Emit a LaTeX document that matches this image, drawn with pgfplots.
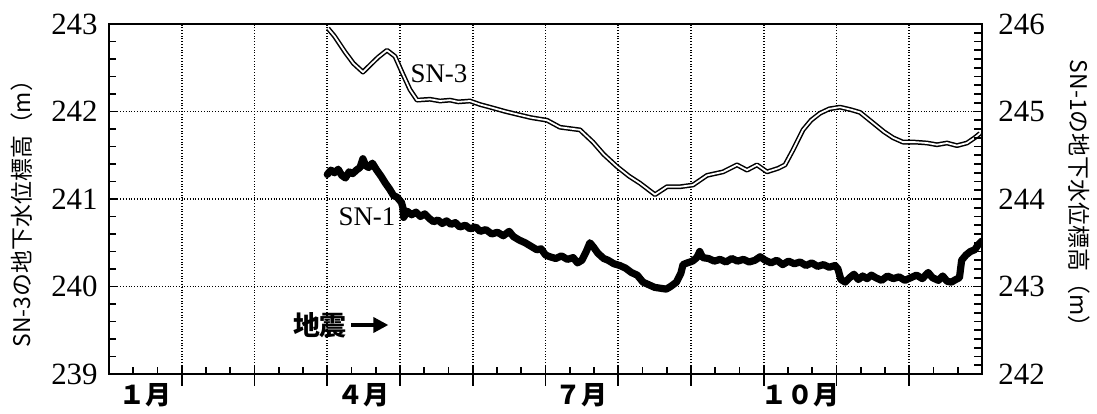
\documentclass[border=0pt]{standalone}
\usepackage{fontspec}
\setmainfont{Liberation Serif}
\newfontfamily\jp{Noto Sans CJK JP}
\usepackage{pgfplots}
\pgfplotsset{compat=1.18}
\usetikzlibrary{arrows.meta}

\pgfplotstableread{
x y
3.010 242.95
3.10 242.86
3.244 242.68
3.36 242.55
3.491 242.45
3.588 242.53
3.70 242.62
3.821 242.70
3.931 242.63
4.027 242.45
4.137 242.25
4.234 242.13
4.412 242.14
4.55 242.12
4.687 242.13
4.80 242.11
4.962 242.12
5.10 242.08
5.278 242.04
5.45 242.00
5.649 241.96
5.80 241.93
6.021 241.90
6.199 241.82
6.474 241.79
6.653 241.65
6.80 241.51
6.983 241.37
7.15 241.26
7.299 241.18
7.505 241.05
7.670 241.14
7.849 241.14
8.027 241.16
8.220 241.27
8.440 241.31
8.632 241.39
8.770 241.33
8.907 241.39
9.045 241.31
9.196 241.35
9.292 241.39
9.402 241.56
9.540 241.79
9.650 241.90
9.773 241.98
9.900 242.03
10.048 242.05
10.200 242.02
10.323 241.99
10.502 241.87
10.650 241.77
10.777 241.70
10.914 241.65
11.080 241.65
11.244 241.64
11.381 241.62
11.519 241.64
11.656 241.61
11.794 241.64
11.900 241.70
11.973 241.75
}\snthree

\pgfplotstableread{
x y
3.00 244.28
3.05 244.33
3.10 244.30
3.15 244.34
3.20 244.27
3.25 244.24
3.30 244.31
3.35 244.29
3.40 244.33
3.45 244.36
3.49 244.46
3.53 244.38
3.57 244.36
3.62 244.41
3.68 244.33
3.74 244.26
3.80 244.18
3.86 244.11
3.91 244.04
3.96 244.02
4.02 243.96
4.04 243.90
4.05 243.79
4.10 243.86
4.16 243.82
4.22 243.85
4.28 243.80
4.34 243.83
4.40 243.78
4.46 243.74
4.52 243.76
4.58 243.72
4.64 243.75
4.70 243.71
4.76 243.73
4.82 243.68
4.90 243.70
4.96 243.66
5.04 243.68
5.10 243.63
5.18 243.65
5.26 243.60
5.34 243.62
5.42 243.58
5.50 243.63
5.56 243.57
5.64 243.53
5.72 243.50
5.80 243.46
5.88 243.42
5.94 243.43
6.00 243.36
6.06 243.34
6.14 243.32
6.22 243.35
6.30 243.31
6.38 243.33
6.44 243.27
6.50 243.30
6.56 243.40
6.61 243.50
6.66 243.45
6.72 243.38
6.80 243.32
6.86 243.30
6.94 243.26
7.02 243.24
7.10 243.21
7.18 243.16
7.26 243.13
7.34 243.05
7.42 243.02
7.50 242.99
7.58 242.98
7.66 242.97
7.72 243.00
7.80 243.05
7.86 243.15
7.89 243.25
7.95 243.27
8.02 243.29
8.08 243.33
8.12 243.40
8.16 243.33
8.24 243.32
8.32 243.29
8.40 243.31
8.48 243.28
8.56 243.32
8.64 243.29
8.72 243.31
8.80 243.28
8.88 243.30
8.95 243.34
9.02 243.30
9.10 243.27
9.18 243.30
9.26 243.25
9.34 243.29
9.42 243.26
9.50 243.28
9.58 243.24
9.66 243.27
9.74 243.23
9.82 243.25
9.90 243.22
9.98 243.24
10.02 243.20
10.06 243.08
10.12 243.05
10.18 243.10
10.24 243.14
10.30 243.08
10.36 243.12
10.42 243.09
10.48 243.13
10.54 243.10
10.62 243.07
10.70 243.12
10.78 243.09
10.86 243.11
10.94 243.07
11.02 243.10
11.10 243.13
11.18 243.09
11.26 243.16
11.32 243.10
11.40 243.07
11.46 243.12
11.52 243.06
11.58 243.05
11.64 243.08
11.69 243.10
11.72 243.30
11.78 243.36
11.84 243.40
11.90 243.42
11.95 243.48
12.00 243.52
}\snone

\begin{document}
\begin{tikzpicture}
\begin{axis}[
  name=ax,
  scale only axis, width=436.5bp, height=175bp,
  xmin=0, xmax=12, ymin=239, ymax=243,
  axis line style={line width=1.2bp},
  xtick={0,...,12},
  xticklabels={１月,,,４月,,,７月,,,１０月,,,},
  xtick pos=left, ytick pos=left,
  minor x tick num=2,
  ytick={239,...,243},
  minor y tick num=4,
  tick align=inside,
  major tick length=4.5bp, minor tick length=3.5bp,
  tick style={black, line width=0.9bp},
  extra x ticks={1,...,11},
  extra x tick labels={},
  extra x tick style={grid=none, tick align=outside, major tick length=6bp},
  xmajorgrids, ymajorgrids,
  grid style={black, densely dotted, line width=0.9bp},
  /pgf/number format/assume math mode=true,
  yticklabel style={font=\fontsize{15.5}{15.5}\selectfont, inner sep=0pt, xshift=-5.5bp},
  xticklabel style={font=\jp\bfseries\fontsize{13}{13}\selectfont, inner sep=0pt, xshift=18.19bp, yshift=-4.5bp, anchor=north},
  ylabel={SN-3の地下水位標高（m）},
  every axis y label/.style={at={(rel axis cs:-0.0997,0.474)}, rotate=90, anchor=center, font=\jp\fontsize{11.5}{11.5}\selectfont},
  clip=false,
]
\addplot[black, line width=0.75bp, double=white, double distance=0.9bp, line join=round] table[x=x,y=y] {\snthree};
\node[font=\fontsize{13.5}{13.5}\selectfont] at (axis cs:4.536,242.43) {SN-3};
\node[font=\fontsize{13.5}{13.5}\selectfont] at (axis cs:3.546,240.794) {SN-1};
\node[font=\jp\bfseries\fontsize{13.5}{13.5}\selectfont] at (axis cs:2.9,239.56) {地震};
\draw[line width=1.8bp, -{Triangle[length=7.5bp,width=7.5bp]}] (axis cs:3.33,239.56) -- (axis cs:3.84,239.56);
\end{axis}
\begin{axis}[
  scale only axis, width=436.5bp, height=175bp,
  xmin=0, xmax=12, ymin=242, ymax=246,
  axis x line=none, axis y line*=right,
  axis line style={line width=1.2bp, -},
  ytick={242,...,246},
  minor y tick num=9,
  tick align=inside,
  major tick length=4.5bp, minor tick length=4bp,
  tick style={black, line width=0.9bp},
  /pgf/number format/assume math mode=true,
  yticklabel style={font=\fontsize{15.5}{15.5}\selectfont, inner sep=0pt, xshift=8bp},
  ylabel={SN-1の地下水位標高（m）},
  every axis y label/.style={at={(rel axis cs:1.111,0.5)}, rotate=-90, anchor=center, font=\jp\fontsize{11.5}{11.5}\selectfont},
]
\addplot[black, line width=3.6bp, line join=round, line cap=round] table[x=x,y=y] {\snone};
\end{axis}
\pgfresetboundingbox
\path[use as bounding box] ([xshift=-54.5bp,yshift=-20bp]ax.south west) rectangle ([xshift=57.5bp,yshift=12bp]ax.north east);
\end{tikzpicture}
\end{document}
